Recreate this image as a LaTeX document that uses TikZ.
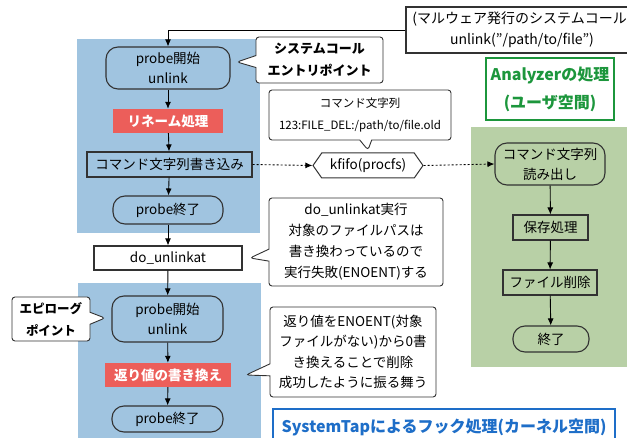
\documentclass[tikz,border=0pt]{standalone}
\usepackage{fontspec}
\setmainfont{Noto Sans CJK JP}
\usetikzlibrary{arrows.meta,shapes.callouts,shapes.symbols,positioning}

\definecolor{kernelblue}{RGB}{160,196,224}
\definecolor{usergreen}{RGB}{184,208,166}
\definecolor{hookred}{RGB}{236,94,90}
\definecolor{titlegreen}{RGB}{28,150,60}
\definecolor{titleblue}{RGB}{30,110,200}
\definecolor{linegray}{RGB}{50,50,50}

\tikzset{
  every node/.style={font=\fontsize{13.5}{20}\selectfont, inner sep=0pt},
  term/.style={draw=linegray, line width=1.1pt, rounded corners=12pt, align=center},
  proc/.style={draw=linegray, line width=1.1pt, align=center},
  hook/.style={fill=hookred, text=white, font=\fontsize{13.5}{16}\bfseries},
  note/.style={rectangle callout, draw=linegray, line width=0.9pt, fill=white,
    rounded corners=3pt, align=center, callout pointer width=12pt},
  heading/.style={draw, line width=1.1pt, align=center, font=\fontsize{16}{28}\bfseries},
  flow/.style={-{Latex[length=7pt,width=6pt]}, line width=0.9pt},
  pipe/.style={flow, dash pattern=on 2pt off 2pt}
}

\begin{document}
\begin{tikzpicture}[x=1pt, y=-1pt]
  \useasboundingbox (0,0) rectangle (627,438);
  \fill[kernelblue] (77,39) rectangle (260,233);
  \fill[kernelblue] (78,283) rectangle (261,445);
  \fill[usergreen] (471,127) rectangle (640,367);

  \node[proc, fill=white, font=\fontsize{14}{21}\selectfont, minimum width=232pt, minimum height=46pt]
    (syscall) at (522,30) {(マルウェア発行のシステムコール)\\unlink("/path/to/file")};

  \node[term, minimum width=124pt, minimum height=42pt] (entry) at (168,68) {probe開始\\unlink};
  \node[hook, minimum width=110pt, minimum height=24pt] (rename) at (168,121) {リネーム処理};
  \node[proc, minimum width=165pt, minimum height=25pt] (write) at (169.5,164.5) {コマンド文字列書き込み};
  \node[term, minimum width=110pt, minimum height=28pt] (exit1) at (168,210) {probe終了};
  \node[proc, fill=white, minimum width=148pt, minimum height=24pt] (unlinkat) at (168,258) {do\_unlinkat};
  \node[term, minimum width=111pt, minimum height=46pt] (epilog) at (167.5,319) {probe開始\\unlink};
  \node[hook, minimum width=126pt, minimum height=24pt] (retval) at (168,375) {返り値の書き換え};
  \node[term, minimum width=111pt, minimum height=26pt] (exit2) at (167.5,419) {probe終了};

  \node[signal, signal to=west and east, signal pointer angle=110, draw=linegray, line width=1pt,
    fill=white, minimum width=110pt, minimum height=25pt] (kfifo) at (368,165.5) {kfifo(procfs)};

  \node[term, minimum width=110pt, minimum height=42pt] (read) at (550,164) {コマンド文字列\\読み出し};
  \node[proc, minimum width=75pt, minimum height=25pt] (save) at (550.5,227.5) {保存処理};
  \node[proc, minimum width=94pt, minimum height=25pt] (remove) at (550,282.5) {ファイル削除};
  \node[term, minimum width=76pt, minimum height=26pt] (done) at (551,339) {終了};

  \node[heading, draw=titlegreen, text=titlegreen, fill=white, minimum width=128pt, minimum height=62pt]
    (usertitle) at (550,89) {Analyzerの処理\\(ユーザ空間)};
  \node[heading, draw=titleblue, text=titleblue, fill=white, minimum width=342pt, minimum height=36pt]
    (kerneltitle) at (444,427) {SystemTapによるフック処理(カーネル空間)};

  \node[note, font=\fontsize{13}{22}\bfseries, minimum width=127pt, minimum height=46pt,
    callout absolute pointer={(237,62)}] (entrynote) at (319.5,60) {システムコール\\エントリポイント};
  \node[note, font=\fontsize{11.5}{22}\selectfont, minimum width=182pt, minimum height=50pt,
    callout absolute pointer={(368,150)}] (cmdnote) at (360,115) {コマンド文字列\\123:FILE\_DEL:/path/to/file.old};
  \node[note, font=\fontsize{13.5}{21}\selectfont, minimum width=174pt, minimum height=88pt,
    callout absolute pointer={(250,258)}] (failnote) at (356,242)
    {do\_unlinkat実行\\対象のファイルパスは\\書き換わっているので\\実行失敗(ENOENT)する};
  \node[note, font=\fontsize{12.5}{22}\bfseries, minimum width=78pt, minimum height=44pt,
    callout absolute pointer={(105,318)}] (epinote) at (51,319) {エピローグ\\ポイント};
  \node[note, font=\fontsize{13.5}{20.5}\selectfont, minimum width=166pt, minimum height=90pt,
    callout absolute pointer={(246,375)}] (retnote) at (353,352)
    {返り値をENOENT(対象\\ファイルがない)から0書\\き換えることで削除\\成功したように振る舞う};

  \draw[flow] (syscall.west) -| (entry.north);
  \draw[flow] (entry) -- (rename);
  \draw[flow] (rename) -- (write);
  \draw[flow] (write) -- (exit1);
  \draw[flow] (exit1) -- (unlinkat);
  \draw[flow] (unlinkat) -- (epilog);
  \draw[flow] (epilog) -- (retval);
  \draw[flow] (retval) -- (exit2);
  \draw[pipe] (write.east) -- (kfifo.west);
  \draw[pipe] (kfifo.east) -- (read.west);
  \draw[flow] (read) -- (save);
  \draw[flow] (save) -- (remove);
  \draw[flow] (remove) -- (done);
\end{tikzpicture}
\end{document}
